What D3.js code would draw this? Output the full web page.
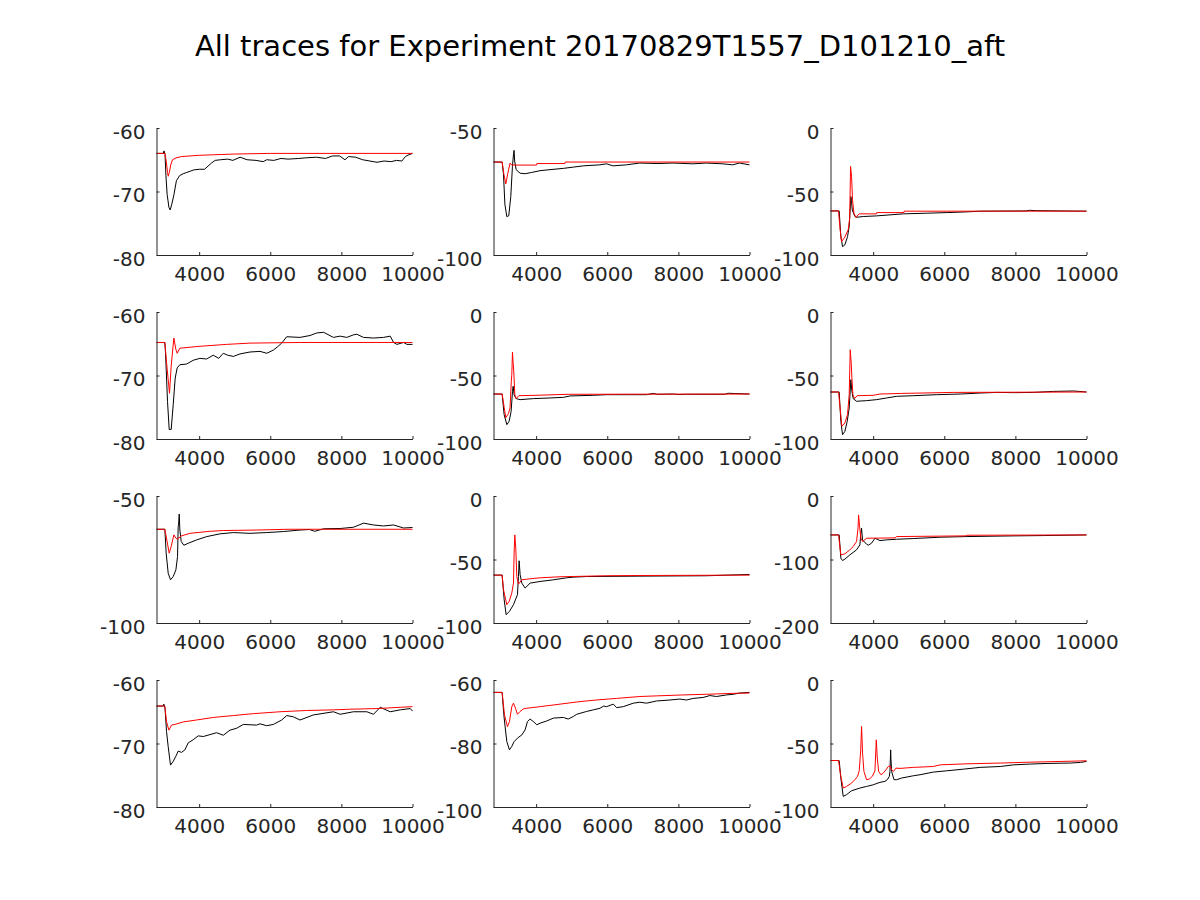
<!DOCTYPE html>
<html>
<head>
<meta charset="utf-8">
<script src="https://cdn.jsdelivr.net/npm/d3@7"></script>
<style>
  body { margin: 0; background: #fff; }
  svg { display: block; }
  text { font-family: "DejaVu Sans", sans-serif; }
</style>
</head>
<body>
<svg id="chart" width="1200" height="900"></svg>
<script>
const title = "All traces for Experiment 20170829T1557_D101210_aft";
const xDomain = [2800, 10000];
const xTicks = [4000, 6000, 8000, 10000];
const yDomains = [[-80,-60],[-100,-50],[-100,0],[-80,-60],[-100,0],[-100,0],[-100,-50],[-100,0],[-200,0],[-80,-60],[-100,-60],[-100,0]];
const yTicks = [[-80,-70,-60],[-100,-50],[-100,-50,0],[-80,-70,-60],[-100,-50,0],[-100,-50,0],[-100,-50],[-100,-50,0],[-200,-100,0],[-80,-70,-60],[-100,-80,-60],[-100,-50,0]];

const black1 = [[2800,-64],[2990,-64],[3010,-63.6],[3040,-64.2],[3065,-67.5],[3100,-70.5],[3150,-72.5],[3185,-72.9],[3230,-72],[3290,-70.5],[3360,-68.3],[3450,-67.5],[3550,-67.2],[3650,-67],[3750,-66.8],[3850,-66.6],[4000,-66.5],[4150,-66.5],[4250,-66],[4350,-65.5],[4450,-65.1],[4600,-65],[4800,-64.9],[4950,-65.1],[5150,-64.6],[5350,-65],[5600,-65.1],[5800,-65.3],[5900,-65],[6100,-65.1],[6300,-64.8],[6500,-64.9],[6800,-64.8],[7000,-64.7],[7300,-64.6],[7550,-64.8],[7750,-64.4],[7950,-64.4],[8100,-65],[8200,-64.5],[8400,-64.6],[8600,-65],[8800,-65.2],[9000,-65.4],[9200,-65.2],[9400,-65.3],[9550,-65.1],[9700,-65.2],[9800,-64.5],[9900,-64.2],[10000,-64]];
const red1 = [[2800,-64],[3040,-64],[3080,-65.5],[3110,-67],[3130,-67.6],[3160,-67],[3200,-65.8],[3250,-65],[3350,-64.7],[3500,-64.5],[4000,-64.3],[5000,-64.1],[6000,-64],[10000,-64]];

const black2 = [[2800,-63.4],[3043,-63.4],[3080,-68],[3120,-80],[3174,-84.9],[3230,-84.5],[3286,-77],[3333,-65.1],[3365,-60],[3379,-58.8],[3395,-63],[3436,-66.4],[3548,-67.8],[3688,-68],[3875,-67.5],[4108,-66.8],[4389,-66.4],[4763,-65.9],[5043,-65.4],[5323,-64.9],[5791,-64.5],[5978,-64.1],[6164,-64.9],[6538,-64.5],[6912,-63.8],[7400,-64],[7847,-63.8],[8407,-64.1],[8781,-63.8],[9249,-64.1],[9529,-64.5],[9716,-63.8],[10000,-64.5]];
const red2 = [[2800,-63.4],[3043,-63.4],[3090,-68],[3146,-72],[3200,-68],[3267,-63.8],[3310,-64.6],[4015,-64.6],[4020,-64],[4810,-64],[4815,-63.4],[10000,-63.4]];

const black3 = [[2800,-65.3],[3044,-65.3],[3090,-85],[3138,-93.4],[3204,-92],[3279,-85.5],[3326,-77.6],[3373,-54],[3390,-57],[3411,-64.5],[3486,-69.7],[3533,-70.3],[3721,-69.7],[4097,-69.2],[4473,-68.4],[4849,-67.6],[5507,-67.1],[6071,-66.6],[6588,-66.1],[7011,-65.5],[8300,-65.3],[8400,-64.8],[8600,-65.1],[10000,-65.5]];
const red3 = [[2800,-65.3],[3025,-65.3],[3070,-80],[3110,-89.5],[3200,-86],[3300,-80],[3340,-71],[3364,-30.3],[3392,-38],[3420,-56.6],[3458,-67],[3514,-70.3],[3608,-67.6],[4097,-67.6],[4100,-66.6],[4868,-66.6],[4870,-65.5],[10000,-65.5]];

const black4 = [[2800,-64.8],[3035,-64.8],[3054,-66.5],[3110,-74.1],[3157,-78.5],[3213,-78.5],[3270,-74.6],[3326,-70.4],[3382,-68.8],[3457,-68.3],[3645,-68.2],[3833,-67.6],[4021,-67.3],[4209,-67.4],[4396,-66.8],[4550,-67.3],[4678,-66.5],[4800,-66.8],[4960,-67],[5148,-66.6],[5429,-66.3],[5711,-66.2],[5900,-66.5],[6087,-66],[6200,-65.5],[6321,-64.9],[6462,-63.9],[6838,-64],[7119,-63.7],[7307,-63.3],[7500,-63.2],[7777,-64],[7965,-63.8],[8150,-64],[8340,-63.6],[8434,-63.5],[8622,-64],[8904,-64.1],[9185,-64],[9373,-63.8],[9470,-64.8],[9561,-65.1],[9749,-64.8],[9843,-65.1],[10000,-65.1]];
const red4 = [[2800,-64.8],[3035,-64.8],[3100,-69],[3166,-72.8],[3213,-68.5],[3288,-64.1],[3345,-65.9],[3382,-66.5],[3457,-65.7],[4020,-65.4],[4772,-65.1],[5430,-64.9],[6838,-64.8],[10000,-64.8]];

const black5 = [[2800,-64.6],[3043,-64.6],[3099,-80.8],[3175,-88.7],[3240,-86],[3296,-78.2],[3334,-62.5],[3352,-58.5],[3380,-65.1],[3437,-68.2],[3549,-69],[3923,-68.2],[4391,-67.7],[4766,-67.2],[4953,-66.1],[5608,-65.6],[5983,-65.1],[7107,-65.1],[7294,-64.1],[7400,-64.8],[7860,-64.6],[8000,-65],[8200,-64.8],[9300,-64.8],[9400,-64],[9600,-64.2],[10000,-64.6]];
const red5 = [[2800,-64.6],[3043,-64.6],[3100,-75],[3146,-83.2],[3220,-80],[3265,-75.6],[3300,-55],[3315,-49.3],[3334,-31.5],[3350,-38.8],[3370,-46.7],[3400,-65],[3437,-68.2],[3512,-65.9],[3970,-65.6],[4907,-64.8],[10000,-64.6]];

const black6 = [[2800,-63],[3044,-63],[3091,-86.1],[3138,-96.6],[3204,-94],[3270,-86.1],[3326,-75.6],[3373,-53.3],[3402,-62.5],[3439,-68.2],[3533,-70.3],[3815,-69.8],[4097,-69],[4379,-67.7],[4661,-66.4],[5131,-65.9],[5789,-65.1],[6447,-64.6],[7011,-63.8],[7481,-63.3],[7951,-63.5],[8515,-63.3],[9079,-62.5],[9643,-62.2],[10000,-63]];
const red6 = [[2800,-63],[3026,-63],[3120,-90],[3204,-87.4],[3279,-80.8],[3326,-65],[3355,-29.7],[3383,-40.2],[3402,-52],[3430,-65],[3477,-68.2],[3552,-65.9],[4003,-65.6],[4191,-64.6],[4802,-64.1],[6259,-63.3],[10000,-63]];

const black7 = [[2800,-63.1],[3035,-63.1],[3072,-72.5],[3129,-80.4],[3194,-83],[3270,-81.7],[3345,-79.1],[3392,-73.8],[3410,-62],[3420,-61.4],[3439,-57.1],[3457,-63.4],[3495,-67.9],[3570,-69.4],[3692,-68.6],[3927,-67.3],[4209,-66],[4584,-64.9],[4960,-64.4],[5429,-64.7],[5899,-64.4],[6368,-64],[6838,-63.4],[7100,-63.2],[7250,-63.9],[7500,-62.9],[7965,-62.8],[8340,-62.3],[8622,-60.7],[8904,-61.4],[9185,-61.8],[9467,-61.4],[9749,-62.6],[10000,-62.4]];
const red7 = [[2800,-63.1],[3035,-63.1],[3157,-72.5],[3213,-69.9],[3288,-65.3],[3345,-66.6],[3382,-67],[3504,-65.7],[3739,-64.7],[4021,-64.3],[4302,-63.9],[4678,-63.6],[5617,-63.4],[6500,-63.1],[10000,-63.1]];

const black8 = [[2800,-62.3],[3043,-62.3],[3100,-81.7],[3156,-93.5],[3249,-90.8],[3362,-85.6],[3474,-77.7],[3502,-63.4],[3521,-51],[3549,-62],[3596,-68.6],[3689,-72.5],[3830,-68.6],[4110,-67.3],[4485,-66],[4859,-64.4],[5046,-63.9],[5421,-63.4],[6918,-63.1],[8790,-62.8],[9726,-62],[10000,-61.8]];
const red8 = [[2800,-62.3],[3043,-62.3],[3081,-73.8],[3174,-85.6],[3240,-83],[3315,-76.4],[3362,-68.6],[3380,-45],[3399,-30.6],[3427,-41.1],[3455,-63.4],[3502,-69.4],[3596,-66],[3830,-65.2],[4110,-64.4],[4672,-63.6],[5982,-62.8],[6918,-62.6],[10000,-62.3]];

const black9 = [[2800,-61.3],[3044,-61.3],[3091,-97.9],[3138,-101.6],[3204,-99.5],[3345,-92.7],[3533,-84.8],[3627,-77],[3650,-60],[3674,-50.8],[3700,-69.1],[3815,-75.9],[3862,-77.5],[3956,-74.3],[4050,-66.5],[4191,-70.2],[4379,-69.1],[4661,-68.1],[5131,-67],[5883,-64.9],[6635,-63.9],[7951,-62.8],[8797,-62.3],[10000,-61.3]];
const red9 = [[2800,-61.3],[3026,-61.3],[3091,-92.7],[3204,-91.1],[3345,-84.8],[3439,-79.6],[3533,-71.7],[3575,-50],[3590,-29.8],[3618,-48.2],[3655,-66.5],[3702,-71.7],[3815,-66.5],[4614,-66],[4661,-63.9],[6588,-62.8],[6635,-61.8],[10000,-61.3]];

const black10 = [[2800,-64.1],[2990,-64.1],[3007,-63.8],[3040,-64.5],[3082,-68.1],[3129,-70.5],[3194,-73.4],[3270,-72.8],[3345,-72],[3410,-71.2],[3504,-71.4],[3598,-71],[3692,-69.9],[3833,-69.4],[3974,-68.8],[4115,-68.9],[4302,-68.6],[4490,-68.3],[4678,-68.7],[4866,-67.9],[5054,-67.6],[5241,-67],[5617,-67.1],[5711,-66.9],[5899,-67.2],[6087,-67],[6321,-66.3],[6462,-65.6],[6650,-65.8],[6838,-66.3],[7213,-65.5],[7777,-65],[7965,-65.4],[8340,-65],[8716,-65],[8904,-65.4],[9091,-64.3],[9373,-65],[9655,-64.7],[9937,-64.5],[10000,-64.9]];
const red10 = [[2800,-64.1],[3035,-64.1],[3080,-66.5],[3147,-67.9],[3223,-67.1],[3316,-67],[3551,-66.6],[3927,-66.3],[4396,-65.9],[4960,-65.6],[5523,-65.3],[6274,-65],[7026,-64.8],[7777,-64.7],[8246,-64.6],[8997,-64.5],[9655,-64.3],[10000,-64.2]];

const black11 = [[2800,-63.9],[3043,-63.9],[3070,-68],[3100,-72],[3174,-79.4],[3249,-82],[3315,-80.9],[3380,-79.4],[3474,-78.3],[3596,-77.3],[3689,-75.7],[3755,-73.1],[3830,-72.3],[3923,-73.1],[4017,-74.1],[4110,-73.6],[4298,-72.9],[4485,-72],[4766,-71.8],[4900,-72.3],[5046,-71.5],[5140,-70.8],[5421,-69.9],[5608,-69.4],[5795,-68.9],[5900,-68.2],[5982,-68.4],[6170,-67.6],[6263,-68.7],[6450,-68.4],[6731,-67.3],[6918,-67],[7106,-67.3],[7386,-66.6],[7761,-66.3],[8042,-66],[8229,-66.3],[8416,-65.8],[8697,-65.5],[8884,-64.9],[9071,-65.2],[9352,-64.7],[9539,-64.5],[9726,-64.1],[10000,-63.9]];
const red11 = [[2800,-63.9],[3043,-63.9],[3109,-71],[3193,-74.7],[3249,-73.1],[3315,-68.4],[3362,-67.3],[3418,-68.9],[3474,-70.8],[3549,-69.9],[3642,-69.1],[3736,-68.9],[4110,-68.4],[4672,-67.6],[5234,-66.8],[5795,-66.2],[6263,-65.8],[6918,-65.2],[7386,-65],[8135,-64.7],[8790,-64.5],[9539,-64.2],[10000,-64.1]];

const black12 = [[2800,-63.4],[3044,-63.4],[3091,-77.2],[3157,-91.6],[3251,-90.3],[3392,-87.2],[3627,-85.1],[3815,-83.8],[4003,-82.5],[4191,-80.6],[4332,-79.8],[4398,-78.5],[4454,-75.9],[4473,-72],[4492,-55],[4501,-62.8],[4520,-72],[4586,-78.5],[4661,-78.5],[4802,-77.2],[5131,-75.4],[5319,-74.6],[5695,-72.5],[6071,-71.5],[6541,-70.2],[7011,-68.8],[7575,-68.1],[7951,-66.8],[8421,-66.2],[8891,-65.7],[9549,-65.4],[9831,-64.9],[10000,-64.1]];
const red12 = [[2800,-63.4],[3026,-63.4],[3082,-74.6],[3157,-85.1],[3251,-83.8],[3392,-81.2],[3486,-78.5],[3561,-75.9],[3608,-71.5],[3650,-55],[3674,-36.6],[3702,-57.6],[3740,-72],[3815,-78.5],[3890,-78],[3975,-75.9],[4050,-71.5],[4088,-47.1],[4116,-61.5],[4154,-72],[4219,-74.6],[4285,-73.3],[4360,-70.7],[4426,-68.1],[4473,-67.5],[4520,-70.7],[4567,-72],[4642,-69.4],[4755,-69.6],[5131,-68.8],[5695,-68.1],[5883,-66.8],[6635,-66],[7575,-65.4],[8421,-64.7],[9643,-63.9],[10000,-63.6]];

const blackTraces = [black1,black2,black3,black4,black5,black6,black7,black8,black9,black10,black11,black12];
const redTraces = [red1,red2,red3,red4,red5,red6,red7,red8,red9,red10,red11,red12];

const svg = d3.select("#chart");
const colLeft = [156.5, 493.5, 830.5];
const rowTop = [128, 312, 496, 680];
const pw = 256, ph = 127;
const axisColor = "#262626";
const fmt = d => String(d);

svg.append("text")
  .attr("x", 600).attr("y", 56)
  .attr("text-anchor", "middle")
  .attr("font-size", 29)
  .attr("fill", "#000")
  .text(title);

for (let i = 0; i < 12; i++) {
  const r = Math.floor(i / 3), c = i % 3;
  const g = svg.append("g").attr("transform", `translate(${colLeft[c]},${rowTop[r]})`);
  const x = d3.scaleLinear().domain(xDomain).range([0, pw]);
  const y = d3.scaleLinear().domain(yDomains[i]).range([ph, 0]);

  const line = d3.line().x(d => x(d[0])).y(d => y(d[1]));
  g.append("path").datum(blackTraces[i]).attr("d", line)
    .attr("fill", "none").attr("stroke", "#000").attr("stroke-width", 1);
  g.append("path").datum(redTraces[i]).attr("d", line)
    .attr("fill", "none").attr("stroke", "#ff0000").attr("stroke-width", 1);

  const xa = g.append("g").attr("transform", `translate(0,${ph})`)
    .call(d3.axisBottom(x).tickValues(xTicks).tickFormat(fmt).tickSizeInner(-3).tickSizeOuter(0).tickPadding(12));
  const ya = g.append("g")
    .call(d3.axisLeft(y).tickValues(yTicks[i]).tickFormat(fmt).tickSizeInner(-3).tickSizeOuter(0).tickPadding(11));
  [xa, ya].forEach(a => {
    a.select(".domain").attr("stroke", axisColor);
    a.selectAll(".tick line").attr("stroke", axisColor);
    a.selectAll(".tick text").attr("fill", axisColor).attr("font-size", 20)
      .attr("font-family", "DejaVu Sans, sans-serif");
  });
  ya.selectAll(".tick text").attr("dy", "0.5em");
}
</script>
</body>
</html>
